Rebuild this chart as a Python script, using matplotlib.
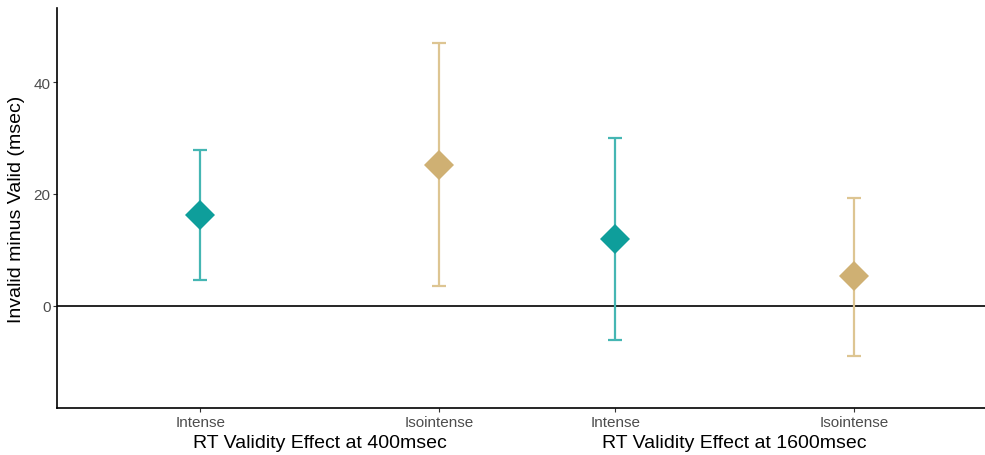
import matplotlib.pyplot as plt
from matplotlib.transforms import blended_transform_factory

plt.rcParams['font.family'] = ['Liberation Sans', 'DejaVu Sans']

# Validity effect (invalid - valid RT) with confidence intervals
conditions = ['Intense', 'Isointense', 'Intense', 'Isointense']
x_pos = [1, 2, 2.74, 3.74]
means = [16.2, 25.2, 11.9, 5.3]
lower = [4.6, 3.5, -6.1, -9.0]
upper = [27.9, 47.0, 30.0, 19.3]
groups = ['RT Validity Effect at 400msec', 'RT Validity Effect at 1600msec']

marker_colors = ['#0e9e9b', '#cfb073', '#0e9e9b', '#cfb073']
bar_colors = ['#45b6b3', '#ddc592', '#45b6b3', '#ddc592']

fig = plt.figure(figsize=(9.85, 4.56), dpi=100)
ax = fig.add_axes([0.0582, 0.1024, 0.9418, 0.8772])

ax.axhline(0, color='black', lw=1.2, zorder=1)

for x, m, lo, hi, mc, bc in zip(x_pos, means, lower, upper, marker_colors, bar_colors):
    ax.errorbar(x, m, yerr=[[m - lo], [hi - m]], fmt='none', ecolor=bc,
                elinewidth=1.6, capsize=5, capthick=1.6, zorder=2)
    ax.plot(x, m, marker='D', markersize=15, color=mc, markeredgewidth=0, zorder=3)

ax.set_xlim(0.4, 4.29)
ax.set_ylim(-18.4, 53.2)
ax.set_yticks([0, 20, 40])
ax.set_xticks(x_pos)
ax.set_xticklabels(conditions)
ax.tick_params(axis='both', labelsize=11, labelcolor='#4d4d4d', length=3, width=0.8, pad=2, color='#333333')

for side in ['top', 'right']:
    ax.spines[side].set_visible(False)
for side in ['left', 'bottom']:
    ax.spines[side].set_linewidth(1.2)

ax.set_ylabel('Invalid minus Valid (msec)', fontsize=14, labelpad=6)

trans = blended_transform_factory(ax.transData, ax.transAxes)
ax.annotate(groups[0], xy=((x_pos[0] + x_pos[1]) / 2, 0), xycoords=trans,
            xytext=(0, -24.5), textcoords='offset points', ha='center', va='center', fontsize=14)
ax.annotate(groups[1], xy=((x_pos[2] + x_pos[3]) / 2, 0), xycoords=trans,
            xytext=(0, -24.5), textcoords='offset points', ha='center', va='center', fontsize=14)

fig.savefig('out.png', dpi=100)
